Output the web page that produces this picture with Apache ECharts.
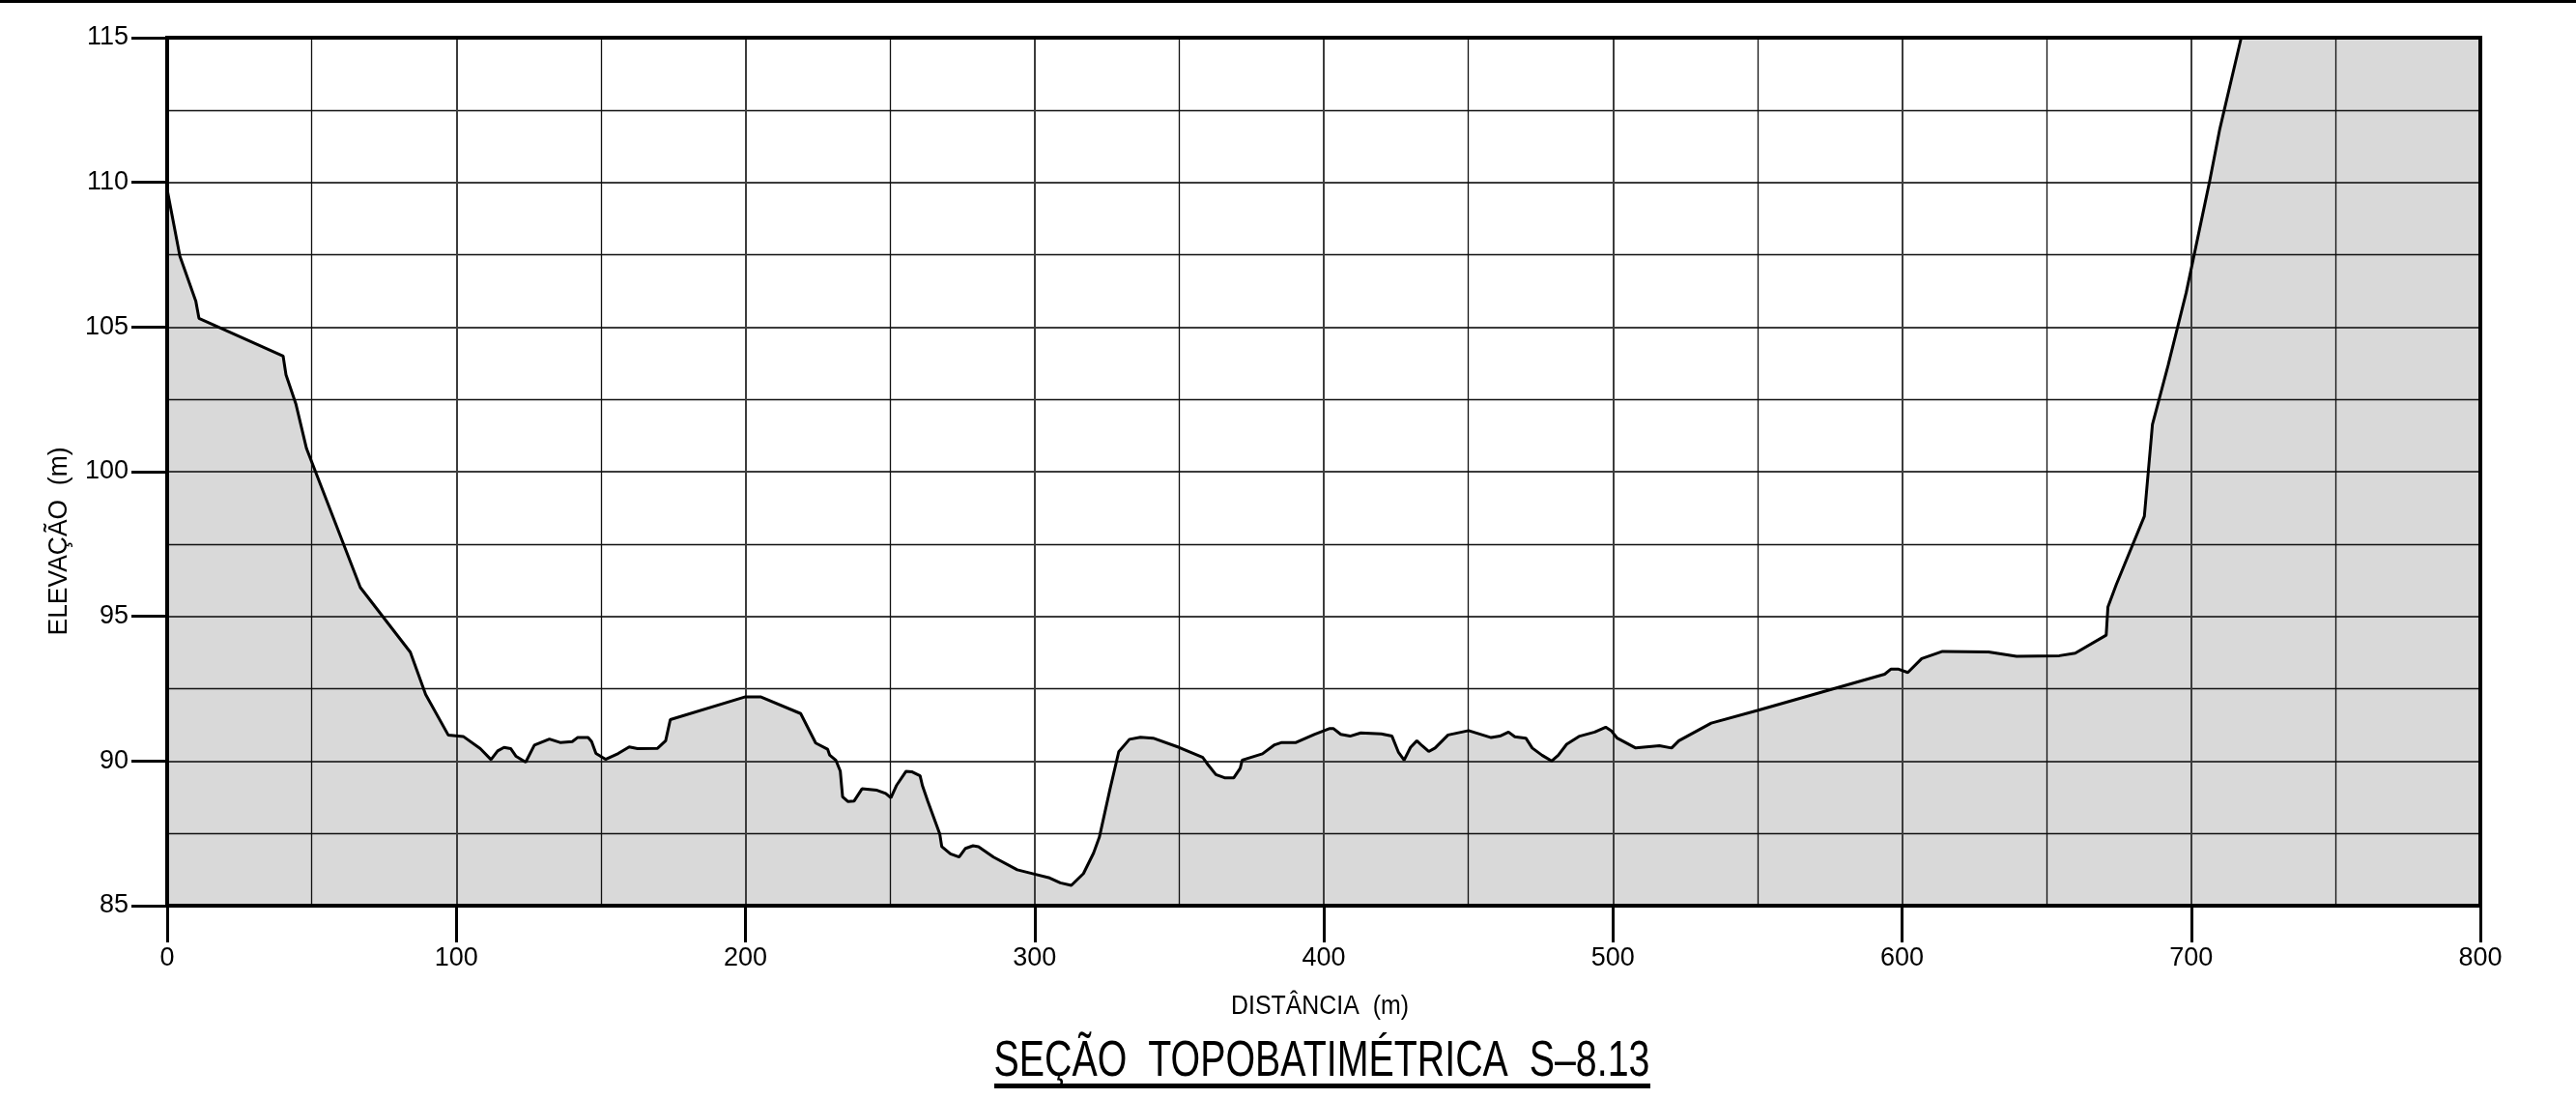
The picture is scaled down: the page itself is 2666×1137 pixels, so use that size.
<!DOCTYPE html>
<html>
<head>
<meta charset="utf-8">
<script src="https://cdn.jsdelivr.net/npm/echarts@6/dist/echarts.min.js"></script>
<style>
  html, body { margin: 0; padding: 0; background: #fff; }
  #chart { width: 2666px; height: 1137px; }
</style>
</head>
<body>
<div id="chart"></div>
<script>
// profile: distance (m) / elevation (m)
var distance = [
  0, 4.4, 9.9, 11, 40.1, 41.1, 44.5, 48.2, 66.8, 84.1,
  89.4, 97.2, 102.4, 108.3, 112.0, 114.3, 116.5, 118.8, 120.7, 124.0,
  127.0, 132.2, 135.9, 140.1, 141.9, 145.6, 146.8, 148.3, 151.6, 156.0,
  159.8, 162.7, 169.6, 172.4, 174.0, 200.0, 205.2, 219.1, 224.3, 228.4,
  229.1, 231.3, 232.8, 233.6, 235.4, 237.6, 240.3, 245.5, 248.5, 250.3,
  252.2, 255.5, 257.5, 260.4, 261.2, 263.1, 267.2, 267.9, 270.9, 273.9,
  276.1, 278.7, 280.6, 285.8, 294.0, 300.0, 305.2, 308.9, 312.7, 316.9,
  320.4, 322.4, 326.1, 329.1, 332.8, 336.6, 341.0, 350.0, 358.2, 359.6,
  362.7, 365.7, 368.9, 371.1, 371.8, 378.8, 383.0, 385.5, 390.4, 396.7,
  401.9, 403.4, 405.9, 409.1, 412.8, 419.9, 423.6, 425.8, 427.8, 430.0,
  432.2, 434.0, 436.3, 438.5, 443.0, 450.1, 457.9, 460.9, 463.9, 466.1,
  469.9, 472.1, 475.5, 478.8, 481.1, 484.0, 488.5, 493.7, 497.5, 499.4,
  501.5, 507.9, 516.1, 520.3, 522.8, 534.0, 550.0, 594.0, 596.2, 598.6,
  602.0, 606.8, 614.0, 629.9, 639.6, 654.4, 659.9, 670.6, 671.2, 674.1,
  683.8, 686.6, 692.0, 698.3, 706.3, 709.9, 717.3, 800
];
var elevation = [
  109.75, 107.45, 105.9, 105.3, 104.0, 103.35, 102.35, 100.8, 96.0, 93.76,
  92.3, 90.9, 90.85, 90.43, 90.05, 90.35, 90.47, 90.43, 90.16, 89.96,
  90.55, 90.76, 90.64, 90.67, 90.81, 90.81, 90.67, 90.26, 90.06, 90.26,
  90.49, 90.43, 90.44, 90.7, 91.43, 92.22, 92.22, 91.64, 90.62, 90.41,
  90.21, 90.02, 89.65, 88.76, 88.6, 88.62, 89.04, 88.99, 88.88, 88.73,
  89.15, 89.64, 89.63, 89.49, 89.15, 88.6, 87.48, 87.04, 86.79, 86.68,
  86.98, 87.07, 87.04, 86.68, 86.24, 86.09, 85.96, 85.79, 85.7, 86.11,
  86.82, 87.37, 89.04, 90.32, 90.75, 90.82, 90.79, 90.47, 90.12, 89.92,
  89.53, 89.42, 89.42, 89.75, 90.03, 90.25, 90.56, 90.64, 90.64, 90.92,
  91.12, 91.12, 90.92, 90.86, 90.97, 90.94, 90.86, 90.31, 90.03, 90.47,
  90.7, 90.53, 90.33, 90.45, 90.9, 91.05, 90.81, 90.86, 91.0, 90.84,
  90.79, 90.45, 90.2, 90.0, 90.2, 90.58, 90.86, 91.0, 91.17, 91.05,
  90.79, 90.45, 90.53, 90.45, 90.7, 91.31, 91.75, 93.0, 93.18, 93.18,
  93.06, 93.54, 93.79, 93.77, 93.62, 93.64, 93.73, 94.35, 95.32, 96.1,
  98.46, 101.63, 103.67, 106.2, 110.0, 111.85, 115, 115
];
var xTicks = { min: 0, max: 800, step: 100 };
var yTicks = { min: 85, max: 115, step: 5 };

var yName = 'ELEVAÇÃO  (m)';
var xName = 'DISTÂNCIA  (m)';
var chartTitle = 'SEÇÃO  TOPOBATIMÉTRICA  S–8.13';

var FONT = '"Liberation Sans", Arial, sans-serif';

// scale factor so a text fits a given width (drawing font is a narrow CAD font)
function fitScale(text, size, width) {
  var ctx = document.createElement('canvas').getContext('2d');
  ctx.font = size + 'px ' + FONT;
  return width / ctx.measureText(text).width;
}

var points = [];
for (var i = 0; i < distance.length; i++) {
  points.push([distance[i], elevation[i]]);
}

var chart = echarts.init(document.getElementById('chart'));

var option = {
  backgroundColor: '#fff',
  animation: false,
  grid: {
    left: 173, right: 99, top: 39, bottom: 200,
    show: true, borderColor: '#000', borderWidth: 4,
    backgroundColor: 'transparent', z: 8
  },
  xAxis: {
    type: 'value', min: xTicks.min, max: xTicks.max, interval: xTicks.step,
    z: 5,
    axisLine: { show: true, lineStyle: { color: '#000', width: 4 } },
    axisTick: { show: true, length: 38, lineStyle: { color: '#000', width: 3 } },
    axisLabel: { margin: 41, fontSize: 27, fontFamily: FONT, color: '#000' },
    splitLine: { show: true, lineStyle: { color: '#3c3c3c', width: 2 } },
    minorTick: { show: false, splitNumber: 2 },
    minorSplitLine: { show: true, lineStyle: { color: '#111', width: 1.3 } }
  },
  yAxis: {
    type: 'value', min: yTicks.min, max: yTicks.max, interval: yTicks.step,
    z: 5,
    axisLine: { show: true, lineStyle: { color: '#000', width: 4 } },
    axisTick: { show: true, length: 37, lineStyle: { color: '#000', width: 3 } },
    axisLabel: { margin: 40, fontSize: 27, fontFamily: FONT, color: '#000' },
    splitLine: { show: true, lineStyle: { color: '#3c3c3c', width: 2 } },
    minorTick: { show: false, splitNumber: 2 },
    minorSplitLine: { show: true, lineStyle: { color: '#111', width: 1.3 } }
  },
  series: [{
    // ground fill
    type: 'line', data: points, showSymbol: false, z: 1,
    lineStyle: { width: 0 },
    areaStyle: { color: '#d9d9d9', opacity: 1, origin: 'start' }
  }, {
    // terrain outline
    type: 'line', data: points, showSymbol: false, z: 7,
    lineStyle: { color: '#000', width: 3 }
  }],
  graphic: [
    { type: 'rect', shape: { x: 0, y: 0, width: 2666, height: 3 }, style: { fill: '#000' } },
    {
      type: 'text', x: 62, y: 560, rotation: Math.PI / 2,
      scaleX: fitScale(yName, 27, 195),
      style: { text: yName, font: '27px ' + FONT, fill: '#000',
               textAlign: 'center', verticalAlign: 'middle', textVerticalAlign: 'middle' }
    },
    {
      type: 'text', x: 1366, y: 1042,
      scaleX: fitScale(xName, 27, 184),
      style: { text: xName, font: '27px ' + FONT, fill: '#000',
               textAlign: 'center', verticalAlign: 'middle', textVerticalAlign: 'middle' }
    },
    {
      type: 'text', x: 1368, y: 1099,
      scaleX: fitScale(chartTitle, 52, 679),
      style: { text: chartTitle, font: '52px ' + FONT, fill: '#000',
               textAlign: 'center', verticalAlign: 'middle', textVerticalAlign: 'middle' }
    },
    { type: 'rect', shape: { x: 1029, y: 1121, width: 679, height: 5 }, style: { fill: '#000' } }
  ]
};

chart.setOption(option, true);
chart.resize();
</script>
</body>
</html>
